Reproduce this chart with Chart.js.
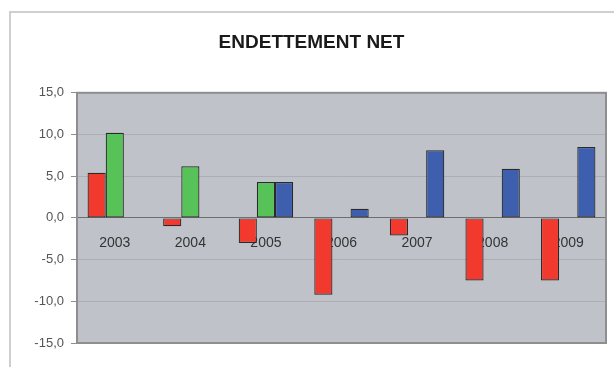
<!DOCTYPE html>
<html lang="fr">
<head>
<meta charset="utf-8">
<title>Endettement net</title>
<script src="https://cdn.jsdelivr.net/npm/chart.js@4"></script>
<style>
  html, body { margin: 0; padding: 0; background: #fff; }
  .cadre { position: absolute; left: 9px; top: 11px; width: 700px; height: 500px;
           border: 2px solid #cfcfcf; box-sizing: border-box; }
  .zone { position: absolute; left: 0; top: 0; width: 614px; height: 367px; }
</style>
</head>
<body>
<div class="cadre"></div>
<div class="zone"><canvas id="barChart"></canvas></div>
<script>
const annees = ['2003', '2004', '2005', '2006', '2007', '2008', '2009'];
const serieRouge = [5.4, -1.0, -3.0, -9.2, -2.1, -7.5, -7.5];
const serieVerte = [10.2, 6.2, 4.3, null, null, null, null];
const serieBleue = [null, null, 4.3, 1.1, 8.1, 5.9, 8.5];
const graduations = [-15, -10, -5, 0, 5, 10, 15];

// fond gris de la zone de tracé + bordure
const fondZone = {
  id: 'fondZone',
  beforeDraw(chart) {
    const { ctx, chartArea: a } = chart;
    ctx.save();
    ctx.fillStyle = '#bfc2c9';
    ctx.fillRect(a.left, a.top, a.right - a.left, a.bottom - a.top);
    ctx.restore();
  },
  afterDraw(chart) {
    const { ctx, chartArea: a } = chart;
    ctx.save();
    ctx.strokeStyle = '#8e8e8e';
    ctx.lineWidth = 2;
    ctx.strokeRect(a.left, a.top, a.right - a.left, a.bottom - a.top);
    ctx.restore();
  }
};

function formatFr(v) {
  return v.toFixed(1).replace('.', ',');
}

const ctx = document.getElementById('barChart').getContext('2d');
new Chart(ctx, {
  type: 'bar',
  data: {
    labels: annees,
    datasets: [
      { label: 'Série 1', data: serieRouge, backgroundColor: '#f2392d' },
      { label: 'Série 2', data: serieVerte, backgroundColor: '#57c257' },
      { label: 'Série 3', data: serieBleue, backgroundColor: '#3d5fae' }
    ]
  },
  options: {
    responsive: true,
    maintainAspectRatio: false,
    animation: false,
    layout: { padding: { left: 17, right: 8, bottom: 24 } },
    datasets: {
      bar: {
        categoryPercentage: 0.72,
        barPercentage: 1,
        borderColor: '#2a2a2a',
        borderWidth: 1.2,
        borderSkipped: false
      }
    },
    plugins: {
      legend: { display: false },
      tooltip: { enabled: false },
      title: {
        display: true,
        text: 'ENDETTEMENT NET',
        color: '#1a1a1a',
        font: { family: 'Arial, "Liberation Sans", sans-serif', size: 19, weight: 'bold' },
        padding: { top: 31, bottom: 39 }
      }
    },
    scales: {
      x: {
        position: { y: 0 },
        grid: { display: false, drawTicks: false },
        border: { color: '#6e6e6e', width: 1 },
        ticks: {
          padding: 17,
          color: '#333',
          font: { family: 'Arial, "Liberation Sans", sans-serif', size: 14 }
        }
      },
      y: {
        min: -15,
        max: 15,
        afterFit(scale) { scale.width = 60; },
        afterBuildTicks(scale) { scale.ticks = graduations.map(v => ({ value: v })); },
        grid: { color: '#abaeb5', tickColor: '#8e8e8e', tickLength: 6 },
        border: { display: false },
        ticks: {
          padding: 7,
          color: '#555',
          font: { family: 'Arial, "Liberation Sans", sans-serif', size: 13 },
          callback: v => formatFr(v)
        }
      }
    }
  },
  plugins: [fondZone]
});
</script>
</body>
</html>
